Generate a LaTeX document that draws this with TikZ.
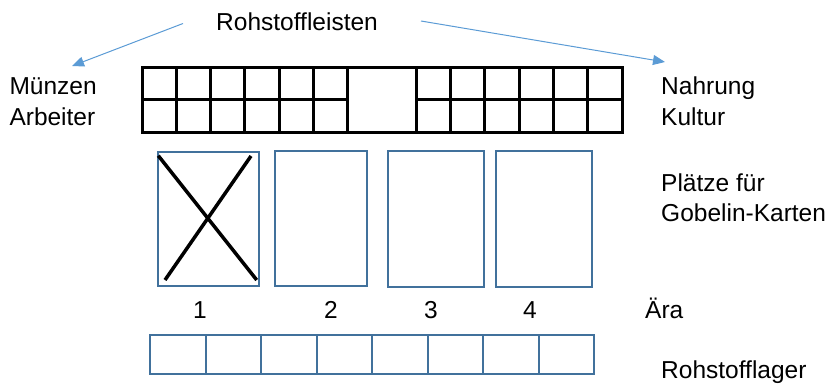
\documentclass[tikz,border=0pt]{standalone}
\usepackage{fontspec}
\setmainfont{Liberation Sans}
\usetikzlibrary{arrows.meta}
\definecolor{cardblue}{HTML}{41719C}
\definecolor{arrowblue}{HTML}{5B9BD5}
\begin{document}
\begin{tikzpicture}[x=1pt,y=-1pt,
  lbl/.style={inner sep=0pt,anchor=base west,font=\fontsize{24.5}{29}\selectfont},
  num/.style={inner sep=0pt,anchor=base,font=\fontsize{24.5}{29}\selectfont},
  gridline/.style={line width=3pt,black},
  card/.style={draw=cardblue,line width=2pt,inner sep=0pt},
  storebox/.style={draw=cardblue,line width=2pt},
  cross/.style={line width=3.5pt,black},
  pointer/.style={arrowblue,line width=1pt,-{Triangle[length=12pt,width=10pt]}}]
\useasboundingbox (0,0) rectangle (832,385);
% texts
\node[lbl] (rl) at (216,30.5) {Rohstoffleisten};
\node[lbl] (mu) at (9.3,94.3) {Münzen};
\node[lbl] (ar) at (9.3,125) {Arbeiter};
\node[lbl] (na) at (661,95) {Nahrung};
\node[lbl] (ku) at (661,125) {Kultur};
\node[lbl] (pl) at (661,191.7) {Plätze für};
\node[lbl] (go) at (661,221.7) {Gobelin-Karten};
\node[num] (n1) at (200,318) {1};
\node[num] (n2) at (331,318) {2};
\node[num] (n3) at (431,318) {3};
\node[num] (n4) at (530,318) {4};
\node[lbl] (era) at (645,318) {Ära};
\node[lbl] (rlag) at (661,378) {Rohstofflager};
% arrows
\coordinate (la) at (183,23.5);
\coordinate (lb) at (72,66);
\coordinate (ra) at (421,21);
\coordinate (rb) at (665,62);
\draw[pointer] (la) -- (lb);
\draw[pointer] (ra) -- (rb);
% resource track grid
\draw[gridline] (142,68) rectangle (622,133);
\foreach \k in {1,...,6,8,9,...,13}{
  \draw[gridline] ({142+\k*34.2857},68) -- ({142+\k*34.2857},133);
}
\draw[gridline] (142,100) -- ({142+6*34.2857},100);
\draw[gridline] ({142+8*34.2857},100) -- (622,100);
% cards
\draw[card] (157.5,152) rectangle (259,285.5);
\draw[card] (275,151) rectangle (367,285.5);
\draw[card] (388,151) rectangle (484,287);
\draw[card] (496,151) rectangle (592,287);
\coordinate (xa) at (158.3,155.7);
\coordinate (xb) at (256.7,280);
\coordinate (xc) at (251,156);
\coordinate (xd) at (165,280);
\draw[cross] (xa) -- (xb);
\draw[cross] (xc) -- (xd);
% storage boxes
\foreach \k in {0,...,7}{
  \draw[storebox] ({150+\k*55.5},335) rectangle ({150+(\k+1)*55.5},374);
}
\end{tikzpicture}
\end{document}
